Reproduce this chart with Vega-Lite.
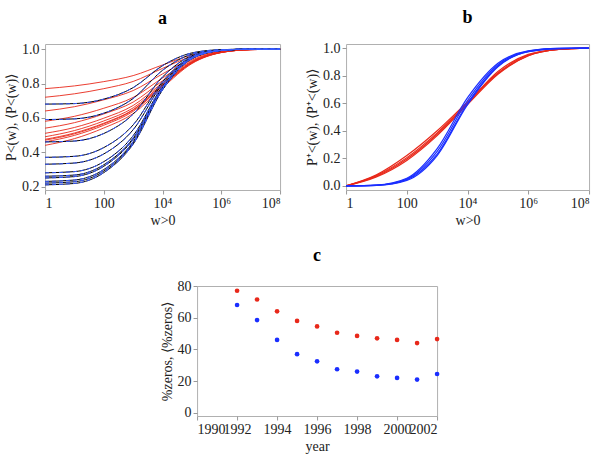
{
  "$schema": "https://vega.github.io/schema/vega-lite/v6.json",
  "padding": {"left": 4, "top": 8, "right": 4, "bottom": 2},
  "config": {
    "font": "Liberation Serif",
    "view": {"stroke": "#b0b0b0"},
    "axis": {"grid": false, "domain": false, "tickColor": "#999", "tickSize": 4, "labelFont": "Liberation Serif", "titleFont": "Liberation Serif", "labelFontSize": 14, "labelColor": "#222", "titleFontSize": 14, "titleFontWeight": "normal", "titleColor": "#222", "titlePadding": 3},
    "title": {"fontSize": 18, "fontWeight": "bold", "font": "Liberation Serif", "offset": 14}
  },
  "datasets": {
    "a": [
      {"s":"r","id":"r92","w":1,"p":0.77},{"s":"r","id":"r92","w":10,"p":0.786},{"s":"r","id":"r92","w":100,"p":0.811},{"s":"r","id":"r92","w":1000,"p":0.846},{"s":"r","id":"r92","w":10000,"p":0.908},{"s":"r","id":"r92","w":100000,"p":0.966},{"s":"r","id":"r92","w":1000000,"p":0.992},{"s":"r","id":"r92","w":10000000,"p":0.999},{"s":"r","id":"r92","w":100000000,"p":1},
      {"s":"r","id":"r93","w":1,"p":0.72},{"s":"r","id":"r93","w":10,"p":0.74},{"s":"r","id":"r93","w":100,"p":0.77},{"s":"r","id":"r93","w":1000,"p":0.812},{"s":"r","id":"r93","w":10000,"p":0.888},{"s":"r","id":"r93","w":100000,"p":0.958},{"s":"r","id":"r93","w":1000000,"p":0.99},{"s":"r","id":"r93","w":10000000,"p":0.999},{"s":"r","id":"r93","w":100000000,"p":1},
      {"s":"r","id":"r94","w":1,"p":0.64},{"s":"r","id":"r94","w":10,"p":0.665},{"s":"r","id":"r94","w":100,"p":0.705},{"s":"r","id":"r94","w":1000,"p":0.759},{"s":"r","id":"r94","w":10000,"p":0.856},{"s":"r","id":"r94","w":100000,"p":0.946},{"s":"r","id":"r94","w":1000000,"p":0.987},{"s":"r","id":"r94","w":10000000,"p":0.998},{"s":"r","id":"r94","w":100000000,"p":1},
      {"s":"r","id":"r95","w":1,"p":0.58},{"s":"r","id":"r95","w":10,"p":0.609},{"s":"r","id":"r95","w":100,"p":0.656},{"s":"r","id":"r95","w":1000,"p":0.719},{"s":"r","id":"r95","w":10000,"p":0.832},{"s":"r","id":"r95","w":100000,"p":0.937},{"s":"r","id":"r95","w":1000000,"p":0.985},{"s":"r","id":"r95","w":10000000,"p":0.998},{"s":"r","id":"r95","w":100000000,"p":1},
      {"s":"r","id":"r96","w":1,"p":0.54},{"s":"r","id":"r96","w":10,"p":0.572},{"s":"r","id":"r96","w":100,"p":0.623},{"s":"r","id":"r96","w":1000,"p":0.692},{"s":"r","id":"r96","w":10000,"p":0.816},{"s":"r","id":"r96","w":100000,"p":0.931},{"s":"r","id":"r96","w":1000000,"p":0.984},{"s":"r","id":"r96","w":10000000,"p":0.998},{"s":"r","id":"r96","w":100000000,"p":1},
      {"s":"r","id":"r97","w":1,"p":0.51},{"s":"r","id":"r97","w":10,"p":0.544},{"s":"r","id":"r97","w":100,"p":0.598},{"s":"r","id":"r97","w":1000,"p":0.672},{"s":"r","id":"r97","w":10000,"p":0.804},{"s":"r","id":"r97","w":100000,"p":0.927},{"s":"r","id":"r97","w":1000000,"p":0.983},{"s":"r","id":"r97","w":10000000,"p":0.998},{"s":"r","id":"r97","w":100000000,"p":1},
      {"s":"r","id":"r98","w":1,"p":0.49},{"s":"r","id":"r98","w":10,"p":0.526},{"s":"r","id":"r98","w":100,"p":0.582},{"s":"r","id":"r98","w":1000,"p":0.658},{"s":"r","id":"r98","w":10000,"p":0.796},{"s":"r","id":"r98","w":100000,"p":0.924},{"s":"r","id":"r98","w":1000000,"p":0.982},{"s":"r","id":"r98","w":10000000,"p":0.997},{"s":"r","id":"r98","w":100000000,"p":1},
      {"s":"r","id":"r99","w":1,"p":0.47},{"s":"r","id":"r99","w":10,"p":0.507},{"s":"r","id":"r99","w":100,"p":0.565},{"s":"r","id":"r99","w":1000,"p":0.645},{"s":"r","id":"r99","w":10000,"p":0.788},{"s":"r","id":"r99","w":100000,"p":0.921},{"s":"r","id":"r99","w":1000000,"p":0.981},{"s":"r","id":"r99","w":10000000,"p":0.997},{"s":"r","id":"r99","w":100000000,"p":1},
      {"s":"r","id":"r00","w":1,"p":0.46},{"s":"r","id":"r00","w":10,"p":0.498},{"s":"r","id":"r00","w":100,"p":0.557},{"s":"r","id":"r00","w":1000,"p":0.638},{"s":"r","id":"r00","w":10000,"p":0.784},{"s":"r","id":"r00","w":100000,"p":0.919},{"s":"r","id":"r00","w":1000000,"p":0.981},{"s":"r","id":"r00","w":10000000,"p":0.997},{"s":"r","id":"r00","w":100000000,"p":1},
      {"s":"r","id":"r01","w":1,"p":0.44},{"s":"r","id":"r01","w":10,"p":0.479},{"s":"r","id":"r01","w":100,"p":0.541},{"s":"r","id":"r01","w":1000,"p":0.625},{"s":"r","id":"r01","w":10000,"p":0.776},{"s":"r","id":"r01","w":100000,"p":0.916},{"s":"r","id":"r01","w":1000000,"p":0.98},{"s":"r","id":"r01","w":10000000,"p":0.997},{"s":"r","id":"r01","w":100000000,"p":1},
      {"s":"r","id":"r02","w":1,"p":0.475},{"s":"r","id":"r02","w":10,"p":0.512},{"s":"r","id":"r02","w":100,"p":0.569},{"s":"r","id":"r02","w":1000,"p":0.648},{"s":"r","id":"r02","w":10000,"p":0.79},{"s":"r","id":"r02","w":100000,"p":0.922},{"s":"r","id":"r02","w":1000000,"p":0.981},{"s":"r","id":"r02","w":10000000,"p":0.997},{"s":"r","id":"r02","w":100000000,"p":1},
      {"s":"b","id":"b92","w":1,"p":0.68},{"s":"b","id":"b92","w":10,"p":0.683},{"s":"b","id":"b92","w":100,"p":0.709},{"s":"b","id":"b92","w":1000,"p":0.776},{"s":"b","id":"b92","w":10000,"p":0.904},{"s":"b","id":"b92","w":100000,"p":0.978},{"s":"b","id":"b92","w":1000000,"p":0.997},{"s":"b","id":"b92","w":10000000,"p":1},{"s":"b","id":"b92","w":100000000,"p":1},
      {"s":"b","id":"b93","w":1,"p":0.59},{"s":"b","id":"b93","w":10,"p":0.594},{"s":"b","id":"b93","w":100,"p":0.627},{"s":"b","id":"b93","w":1000,"p":0.713},{"s":"b","id":"b93","w":10000,"p":0.877},{"s":"b","id":"b93","w":100000,"p":0.971},{"s":"b","id":"b93","w":1000000,"p":0.996},{"s":"b","id":"b93","w":10000000,"p":1},{"s":"b","id":"b93","w":100000000,"p":1},
      {"s":"b","id":"b94","w":1,"p":0.46},{"s":"b","id":"b94","w":10,"p":0.465},{"s":"b","id":"b94","w":100,"p":0.509},{"s":"b","id":"b94","w":1000,"p":0.622},{"s":"b","id":"b94","w":10000,"p":0.838},{"s":"b","id":"b94","w":100000,"p":0.962},{"s":"b","id":"b94","w":1000000,"p":0.995},{"s":"b","id":"b94","w":10000000,"p":1},{"s":"b","id":"b94","w":100000000,"p":1},
      {"s":"b","id":"b95","w":1,"p":0.37},{"s":"b","id":"b95","w":10,"p":0.376},{"s":"b","id":"b95","w":100,"p":0.427},{"s":"b","id":"b95","w":1000,"p":0.559},{"s":"b","id":"b95","w":10000,"p":0.811},{"s":"b","id":"b95","w":100000,"p":0.956},{"s":"b","id":"b95","w":1000000,"p":0.994},{"s":"b","id":"b95","w":10000000,"p":1},{"s":"b","id":"b95","w":100000000,"p":1},
      {"s":"b","id":"b96","w":1,"p":0.33},{"s":"b","id":"b96","w":10,"p":0.337},{"s":"b","id":"b96","w":100,"p":0.39},{"s":"b","id":"b96","w":1000,"p":0.531},{"s":"b","id":"b96","w":10000,"p":0.799},{"s":"b","id":"b96","w":100000,"p":0.953},{"s":"b","id":"b96","w":1000000,"p":0.993},{"s":"b","id":"b96","w":10000000,"p":1},{"s":"b","id":"b96","w":100000000,"p":1},
      {"s":"b","id":"b97","w":1,"p":0.28},{"s":"b","id":"b97","w":10,"p":0.287},{"s":"b","id":"b97","w":100,"p":0.345},{"s":"b","id":"b97","w":1000,"p":0.496},{"s":"b","id":"b97","w":10000,"p":0.784},{"s":"b","id":"b97","w":100000,"p":0.95},{"s":"b","id":"b97","w":1000000,"p":0.993},{"s":"b","id":"b97","w":10000000,"p":1},{"s":"b","id":"b97","w":100000000,"p":1},
      {"s":"b","id":"b98","w":1,"p":0.26},{"s":"b","id":"b98","w":10,"p":0.267},{"s":"b","id":"b98","w":100,"p":0.327},{"s":"b","id":"b98","w":1000,"p":0.482},{"s":"b","id":"b98","w":10000,"p":0.778},{"s":"b","id":"b98","w":100000,"p":0.948},{"s":"b","id":"b98","w":1000000,"p":0.993},{"s":"b","id":"b98","w":10000000,"p":1},{"s":"b","id":"b98","w":100000000,"p":1},
      {"s":"b","id":"b99","w":1,"p":0.23},{"s":"b","id":"b99","w":10,"p":0.238},{"s":"b","id":"b99","w":100,"p":0.299},{"s":"b","id":"b99","w":1000,"p":0.461},{"s":"b","id":"b99","w":10000,"p":0.769},{"s":"b","id":"b99","w":100000,"p":0.946},{"s":"b","id":"b99","w":1000000,"p":0.992},{"s":"b","id":"b99","w":10000000,"p":1},{"s":"b","id":"b99","w":100000000,"p":1},
      {"s":"b","id":"b00","w":1,"p":0.22},{"s":"b","id":"b00","w":10,"p":0.228},{"s":"b","id":"b00","w":100,"p":0.29},{"s":"b","id":"b00","w":1000,"p":0.454},{"s":"b","id":"b00","w":10000,"p":0.766},{"s":"b","id":"b00","w":100000,"p":0.945},{"s":"b","id":"b00","w":1000000,"p":0.992},{"s":"b","id":"b00","w":10000000,"p":1},{"s":"b","id":"b00","w":100000000,"p":1},
      {"s":"b","id":"b01","w":1,"p":0.21},{"s":"b","id":"b01","w":10,"p":0.218},{"s":"b","id":"b01","w":100,"p":0.281},{"s":"b","id":"b01","w":1000,"p":0.447},{"s":"b","id":"b01","w":10000,"p":0.763},{"s":"b","id":"b01","w":100000,"p":0.945},{"s":"b","id":"b01","w":1000000,"p":0.992},{"s":"b","id":"b01","w":10000000,"p":1},{"s":"b","id":"b01","w":100000000,"p":1},
      {"s":"b","id":"b02","w":1,"p":0.25},{"s":"b","id":"b02","w":10,"p":0.258},{"s":"b","id":"b02","w":100,"p":0.318},{"s":"b","id":"b02","w":1000,"p":0.475},{"s":"b","id":"b02","w":10000,"p":0.775},{"s":"b","id":"b02","w":100000,"p":0.948},{"s":"b","id":"b02","w":1000000,"p":0.993},{"s":"b","id":"b02","w":10000000,"p":1},{"s":"b","id":"b02","w":100000000,"p":1}
    ],
    "b": [
      {"s":"r","id":"r1","w":1,"p":0},{"s":"r","id":"r1","w":10,"p":0.08},{"s":"r","id":"r1","w":100,"p":0.22},{"s":"r","id":"r1","w":1000,"p":0.4},{"s":"r","id":"r1","w":10000,"p":0.61},{"s":"r","id":"r1","w":100000,"p":0.82},{"s":"r","id":"r1","w":1000000,"p":0.95},{"s":"r","id":"r1","w":10000000,"p":0.99},{"s":"r","id":"r1","w":100000000,"p":1},
      {"s":"r","id":"r2","w":1,"p":0},{"s":"r","id":"r2","w":10,"p":0.075},{"s":"r","id":"r2","w":100,"p":0.205},{"s":"r","id":"r2","w":1000,"p":0.385},{"s":"r","id":"r2","w":10000,"p":0.6},{"s":"r","id":"r2","w":100000,"p":0.815},{"s":"r","id":"r2","w":1000000,"p":0.945},{"s":"r","id":"r2","w":10000000,"p":0.99},{"s":"r","id":"r2","w":100000000,"p":1},
      {"s":"r","id":"r3","w":1,"p":0},{"s":"r","id":"r3","w":10,"p":0.07},{"s":"r","id":"r3","w":100,"p":0.195},{"s":"r","id":"r3","w":1000,"p":0.375},{"s":"r","id":"r3","w":10000,"p":0.6},{"s":"r","id":"r3","w":100000,"p":0.83},{"s":"r","id":"r3","w":1000000,"p":0.955},{"s":"r","id":"r3","w":10000000,"p":0.992},{"s":"r","id":"r3","w":100000000,"p":1},
      {"s":"r","id":"r4","w":1,"p":0},{"s":"r","id":"r4","w":10,"p":0.065},{"s":"r","id":"r4","w":100,"p":0.185},{"s":"r","id":"r4","w":1000,"p":0.365},{"s":"r","id":"r4","w":10000,"p":0.59},{"s":"r","id":"r4","w":100000,"p":0.81},{"s":"r","id":"r4","w":1000000,"p":0.945},{"s":"r","id":"r4","w":10000000,"p":0.99},{"s":"r","id":"r4","w":100000000,"p":1},
      {"s":"b","id":"b1","w":1,"p":0},{"s":"b","id":"b1","w":10,"p":0.006},{"s":"b","id":"b1","w":100,"p":0.055},{"s":"b","id":"b1","w":1000,"p":0.27},{"s":"b","id":"b1","w":10000,"p":0.64},{"s":"b","id":"b1","w":100000,"p":0.89},{"s":"b","id":"b1","w":1000000,"p":0.98},{"s":"b","id":"b1","w":10000000,"p":0.998},{"s":"b","id":"b1","w":100000000,"p":1},
      {"s":"b","id":"b2","w":1,"p":0},{"s":"b","id":"b2","w":10,"p":0.005},{"s":"b","id":"b2","w":100,"p":0.05},{"s":"b","id":"b2","w":1000,"p":0.25},{"s":"b","id":"b2","w":10000,"p":0.62},{"s":"b","id":"b2","w":100000,"p":0.88},{"s":"b","id":"b2","w":1000000,"p":0.978},{"s":"b","id":"b2","w":10000000,"p":0.998},{"s":"b","id":"b2","w":100000000,"p":1},
      {"s":"b","id":"b3","w":1,"p":0},{"s":"b","id":"b3","w":10,"p":0.004},{"s":"b","id":"b3","w":100,"p":0.045},{"s":"b","id":"b3","w":1000,"p":0.23},{"s":"b","id":"b3","w":10000,"p":0.6},{"s":"b","id":"b3","w":100000,"p":0.87},{"s":"b","id":"b3","w":1000000,"p":0.975},{"s":"b","id":"b3","w":10000000,"p":0.997},{"s":"b","id":"b3","w":100000000,"p":1},
      {"s":"b","id":"b4","w":1,"p":0},{"s":"b","id":"b4","w":10,"p":0.004},{"s":"b","id":"b4","w":100,"p":0.04},{"s":"b","id":"b4","w":1000,"p":0.22},{"s":"b","id":"b4","w":10000,"p":0.59},{"s":"b","id":"b4","w":100000,"p":0.865},{"s":"b","id":"b4","w":1000000,"p":0.975},{"s":"b","id":"b4","w":10000000,"p":0.997},{"s":"b","id":"b4","w":100000000,"p":1}
    ],
    "c": [
      {"year":1992,"s":"r","v":77},{"year":1993,"s":"r","v":71.5},{"year":1994,"s":"r","v":64},{"year":1995,"s":"r","v":58},{"year":1996,"s":"r","v":54.5},{"year":1997,"s":"r","v":50.5},{"year":1998,"s":"r","v":48.5},{"year":1999,"s":"r","v":47},{"year":2000,"s":"r","v":46},{"year":2001,"s":"r","v":44},{"year":2002,"s":"r","v":46.5},
      {"year":1992,"s":"b","v":68},{"year":1993,"s":"b","v":58.5},{"year":1994,"s":"b","v":46},{"year":1995,"s":"b","v":37},{"year":1996,"s":"b","v":32.5},{"year":1997,"s":"b","v":27.5},{"year":1998,"s":"b","v":26},{"year":1999,"s":"b","v":23},{"year":2000,"s":"b","v":22},{"year":2001,"s":"b","v":21},{"year":2002,"s":"b","v":24.5}
    ]
  },
  "vconcat": [
    {
      "hconcat": [
        {
          "title": "a",
          "width": 235,
          "height": 146,
          "data": {"name": "a"},
          "encoding": {
            "x": {"field": "w", "type": "quantitative", "title": "w>0", "scale": {"type": "log", "domain": [1, 100000000]},
              "axis": {"values": [1, 100, 10000, 1000000, 100000000], "labelExpr": "datum.value == 1 ? '1' : datum.value == 100 ? '100' : datum.value == 10000 ? '10⁴' : datum.value == 1000000 ? '10⁶' : '10⁸'"}},
            "y": {"field": "p", "type": "quantitative", "title": "P<(w), ⟨P<(w)⟩", "scale": {"domain": [0.18, 1.03], "nice": false},
              "axis": {"values": [0.2, 0.4, 0.6, 0.8, 1.0], "format": ".1f"}},
            "detail": {"field": "id"}
          },
          "layer": [
            {"transform": [{"filter": "datum.s == 'r'"}], "mark": {"type": "line", "interpolate": "monotone", "color": "#e8281a", "strokeWidth": 0.9}},
            {"transform": [{"filter": "datum.s == 'b'"}], "mark": {"type": "line", "interpolate": "monotone", "color": "#000000", "strokeWidth": 1}},
            {"transform": [{"filter": "datum.s == 'b'"}], "mark": {"type": "line", "interpolate": "monotone", "color": "#3a5cff", "strokeWidth": 1, "strokeDash": [4, 3]}}
          ]
        },
        {
          "title": "b",
          "width": 243,
          "height": 146,
          "data": {"name": "b"},
          "encoding": {
            "x": {"field": "w", "type": "quantitative", "title": "w>0", "scale": {"type": "log", "domain": [1, 100000000]},
              "axis": {"values": [1, 100, 10000, 1000000, 100000000], "labelExpr": "datum.value == 1 ? '1' : datum.value == 100 ? '100' : datum.value == 10000 ? '10⁴' : datum.value == 1000000 ? '10⁶' : '10⁸'"}},
            "y": {"field": "p", "type": "quantitative", "title": "P⁺<(w), ⟨P⁺<(w)⟩", "scale": {"domain": [-0.03, 1.03], "nice": false},
              "axis": {"values": [0, 0.2, 0.4, 0.6, 0.8, 1.0], "format": ".1f"}},
            "detail": {"field": "id"},
            "color": {"field": "s", "type": "nominal", "scale": {"domain": ["r", "b"], "range": ["#e8281a", "#1a2eff"]}, "legend": null}
          },
          "mark": {"type": "line", "interpolate": "monotone", "strokeWidth": 1.2}
        }
      ],
      "spacing": 22
    },
    {
      "title": "c",
      "width": 240,
      "height": 130,
      "data": {"name": "c"},
      "mark": {"type": "circle", "size": 22, "opacity": 1},
      "encoding": {
        "x": {"field": "year", "type": "quantitative", "title": "year", "scale": {"domain": [1990, 2002], "nice": false}, "axis": {"values": [1990, 1992, 1994, 1996, 1998, 2000, 2002], "format": "d", "labelOverlap": false}},
        "y": {"field": "v", "type": "quantitative", "title": "%zeros, ⟨%zeros⟩", "scale": {"domain": [-2, 80], "nice": false}, "axis": {"values": [0, 20, 40, 60, 80]}},
        "color": {"field": "s", "type": "nominal", "scale": {"domain": ["r", "b"], "range": ["#f02a1e", "#1a3cff"]}, "legend": null}
      }
    }
  ],
  "spacing": 18,
  "center": true
}
